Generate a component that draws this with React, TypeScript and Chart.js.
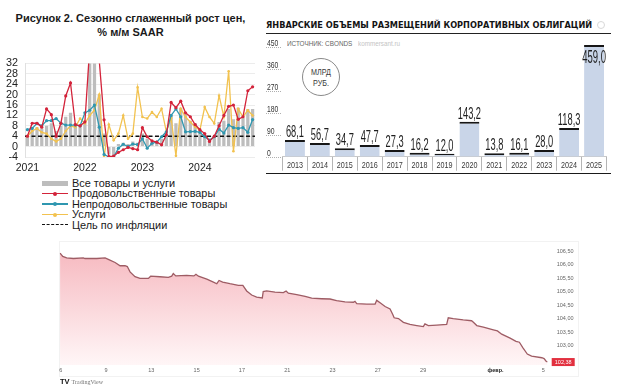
import React, { useEffect, useRef } from "react";
import { Chart, registerables } from "chart.js";
Chart.register(...registerables);

// ---------- Chart 1: seasonally adjusted price growth ----------
const cpiYears = ["2021", "2022", "2023", "2024"];
const cpiMonthNames = ["01", "02", "03", "04", "05", "06", "07", "08", "09", "10", "11", "12"];
const cpiCategories = cpiYears.flatMap((y) => cpiMonthNames.map((m) => `${y}-${m}`));
const allItems = [4.5, 6.5, 7.5, 7, 8, 9, 6, 8, 11.5, 13, 9, 8.5,
  9, 45, 45, 20, 5, -3, -3.7, 1, 1.5, 1, 2, 1.5,
  5, 3, 1.5, 2, 3, 5.5, 12, 9, 15, 12.5, 10, 9,
  6.3, 5, 2.5, 3.8, 9.5, 10, 14.5, 10.5, 15, 11, 14.5, 14.5];
const foodGoods = [4, 9, 9, 7.5, 14.5, 12.3, 4, 9, 19.5, 24.5, 8.5, 8,
  9.5, 38, 45, 33, 10.3, -3.8, -3.7, -2.2, -1.2, -0.3, -0.8, -1.2,
  7.3, 3.8, 2.2, 1.7, 0.7, 4.5, 17, 15, 17.5, 13, 11.5, 8.5,
  6.5, 5, 2, 4, 8, 12, 15.5, 16, 10.5, 11.5, 21.5, 23];
const nonFoodGoods = [6.5, 7, 9, 8, 10, 10, 10.8, 9, 8.3, 8.3, 8.3, 8,
  13, 14, 16, 7.5, -3, -4, -4, -0.6, 0.9, 0, 1, 0.8,
  3, -0.6, 1.3, 1.7, 3.8, 5.7, 12, 14.5, 11.5, 5.7, 5.8, 5.9,
  5.5, 3.8, 2.5, 3.8, 6.7, 5.2, 8.3, 7.3, 7, 7.3, 5.5, 10.4];
const services = [4, 6, 7, 5.5, 5, 3, 2, 3, 6, 8, 7.5, 10.8,
  8.9, 12, 14, 20, -4, 8.5, 2.4, 5, 12, 3, 5, 22.8,
  11.4, 10.8, 13.3, 11.4, 14.6, 5.7, 11, -3.5, 14.6, 11.4, 9.5, 7.6,
  6.3, 15.2, 11.4, 8.9, 19.6, 11.4, 29, -1.8, 14.6, 11.4, 14, 12];
const inflationTarget = 4;
const cpiLegend = [
  "Все товары и услуги",
  "Продовольственные товары",
  "Непродовольственные товары",
  "Услуги",
  "Цель по инфляции",
];

// ---------- Chart 2: January corporate bond placements ----------
const bondYears = ["2013", "2014", "2015", "2016", "2017", "2018", "2019", "2020", "2021", "2022", "2023", "2024", "2025"];
const bondVolumes = [68.1, 56.7, 34.7, 47.7, 27.3, 16.2, 12.0, 143.2, 13.8, 16.1, 28.0, 118.3, 459.0];
const bondTicks = [0, 90, 180, 270, 360, 450];

// ---------- Chart 3: price line (TradingView style) ----------
const ofzSession = [-0.03, 0.09, 0.26, 0.56, 1.0, 1.07, 1.59, 1.96, 2.10, 2.40,
  2.62, 2.84, 2.94, 3.06, 3.28, 3.50, 3.87, 3.97, 4.38, 4.75,
  4.90, 4.97, 5.08, 5.56, 5.88, 5.97, 6.08, 6.45, 6.74, 6.89,
  6.99, 7.15, 7.47, 7.84, 8.04, 8.21, 8.43, 8.65, 8.90, 8.94,
  9.09, 9.46, 9.83, 9.95, 10.05, 10.42, 10.79, 11.08, 11.52, 11.89,
  12.18, 12.55, 12.92, 12.99, 13.07, 13.51, 13.88, 13.95, 14.10, 14.32,
  14.54, 14.66, 14.72, 14.91, 15.13, 15.42, 15.72, 16.01, 16.08, 16.23,
  16.60, 17.04, 17.11, 17.33, 17.77, 18.14, 18.22, 18.37, 18.66, 19.10,
  19.28, 19.47, 19.84, 20.10, 20.25, 20.40, 20.60, 20.79, 21.24, 21.34,
  21.43, 21.49];
const ofzPrice = [106.44, 106.32, 106.26, 106.24, 106.26, 106.24, 106.24, 106.26, 106.21, 106.09,
  105.97, 105.97, 105.94, 105.74, 105.56, 105.50, 105.50, 105.58, 105.56, 105.54,
  105.58, 105.68, 105.59, 105.61, 105.59, 105.65, 105.58, 105.47, 105.36, 105.30,
  105.42, 105.36, 105.30, 105.24, 105.24, 105.03, 104.88, 104.80, 104.77, 105.01,
  105.03, 104.99, 104.97, 105.03, 104.95, 104.89, 104.83, 104.76, 104.74, 104.73,
  104.67, 104.62, 104.61, 104.64, 104.56, 104.54, 104.54, 104.68, 104.59, 104.45,
  104.36, 104.15, 104.03, 104.00, 103.86, 103.78, 103.74, 103.70, 103.80, 103.74,
  103.76, 103.78, 104.03, 104.00, 103.95, 103.92, 103.86, 103.74, 103.68, 103.58,
  103.54, 103.42, 103.27, 103.15, 103.12, 102.92, 102.68, 102.60, 102.54, 102.51,
  102.41, 102.38];
const ofzTickPos = [0, 2, 4, 6, 8, 10, 12, 14, 16, 19.2, 21.3];
const ofzTickLabels = ["6", "9", "13", "15", "17", "21", "23", "27", "29", "февр.", "5"];
const ofzPriceTicks = [103, 103.5, 104, 104.5, 105, 105.5, 106, 106.5];

const SANS = "'Liberation Sans', Arial, sans-serif";

const RED = "#d3233a";
const TEAL = "#2f97b0";
const YELLOW = "#f2c24f";

const targetPlugin = {
  id: "targetLine",
  afterDatasetDraw(chart: any, args: any) {
    if (args.index !== 0) return;
    const { ctx, chartArea } = chart;
    const y = chart.scales.y.getPixelForValue(inflationTarget);
    ctx.save();
    ctx.beginPath();
    ctx.setLineDash([4, 2.5]);
    ctx.lineWidth = 1.5;
    ctx.strokeStyle = "#111";
    ctx.moveTo(chartArea.left, y);
    ctx.lineTo(chartArea.right, y);
    ctx.stroke();
    ctx.restore();
  },
};

function narrowText(ctx: any, txt: string, x: number, y: number, size: number, sx: number, align: string, color: string) {
  ctx.save();
  ctx.fillStyle = color;
  ctx.font = `${size}px ${SANS}`;
  ctx.textAlign = align;
  ctx.textBaseline = "alphabetic";
  ctx.translate(x, y);
  ctx.scale(sx, 1);
  ctx.fillText(txt, 0, 0);
  ctx.restore();
}

const bondPlugin = {
  id: "bondDecor",
  afterDatasetsDraw(chart: any) {
    const { ctx, chartArea } = chart;
    const meta = chart.getDatasetMeta(0);
    const xs = chart.scales.x;
    meta.data.forEach((bar: any, i: number) => {
      const v = bondVolumes[i];
      const txt = v.toFixed(1).replace(".", ",");
      const inside = v > 400;
      narrowText(ctx, txt, bar.x, inside ? bar.y + 18 : bar.y - 3, inside ? 19 : 16, inside ? 0.5 : 0.58, "center", "#1e1e1e");
      narrowText(ctx, bondYears[i], xs.getPixelForValue(i), chartArea.bottom + 11.5, 9, 0.8, "center", "#3a3a3a");
    });
    const ys = chart.scales.y;
    bondTicks.forEach((t) => {
      const py = Math.round(ys.getPixelForValue(t)) + 0.5;
      ctx.save();
      ctx.strokeStyle = "#9a9a9a";
      ctx.lineWidth = 0.8;
      ctx.setLineDash([1, 1]);
      ctx.beginPath();
      ctx.moveTo(4, py);
      ctx.lineTo(19, py);
      ctx.stroke();
      ctx.restore();
      narrowText(ctx, String(t), 5, py - 2, 8.5, 0.8, "left", "#333");
    });
  },
};

const lastPricePlugin = {
  id: "lastPrice",
  afterDraw(chart: any) {
    const { ctx, chartArea } = chart;
    const v = ofzPrice[ofzPrice.length - 1];
    const py = chart.scales.y.getPixelForValue(v);
    ctx.save();
    ctx.fillStyle = "#e2303f";
    ctx.fillRect(chartArea.right + 4, py - 4, 23, 8);
    ctx.fillStyle = "#fff";
    ctx.font = `5.5px ${SANS}`;
    ctx.textAlign = "center";
    ctx.textBaseline = "middle";
    ctx.fillText(v.toFixed(2).replace(".", ","), chartArea.right + 15.5, py + 0.3);
    ctx.restore();
  },
};

function makeCpi(canvas: HTMLCanvasElement) {
  return new Chart(canvas, {
    type: "bar",
    data: {
      labels: cpiCategories,
      datasets: [
        { type: "bar", label: cpiLegend[0], data: allItems, backgroundColor: "#bdbdbd", barPercentage: 0.68, categoryPercentage: 1, order: 10 } as any,
        { type: "line", label: cpiLegend[1], data: foodGoods, borderColor: RED, backgroundColor: RED, borderWidth: 1.3, pointRadius: 1.6, pointBorderWidth: 0, order: 1 },
        { type: "line", label: cpiLegend[2], data: nonFoodGoods, borderColor: TEAL, backgroundColor: TEAL, borderWidth: 1.3, pointRadius: 1.6, pointBorderWidth: 0, order: 2 },
        { type: "line", label: cpiLegend[3], data: services, borderColor: YELLOW, backgroundColor: YELLOW, borderWidth: 1.3, pointRadius: 1.3, pointBorderWidth: 0, order: 3 },
      ],
    },
    options: {
      responsive: false,
      animation: false,
      devicePixelRatio: 1,
      layout: { padding: { top: 12, right: 7, left: 0, bottom: 0 } },
      plugins: { legend: { display: false }, tooltip: { enabled: false } },
      scales: {
        x: {
          grid: { display: false, drawTicks: false },
          border: { display: false },
          ticks: {
            autoSkip: false,
            maxRotation: 0,
            padding: 5,
            color: "#222",
            font: { family: SANS, size: 10.5 },
            callback: (_v: any, i: number) => (cpiCategories[i].endsWith("-01") ? cpiCategories[i].slice(0, 4) : ""),
          },
          afterFit: (s: any) => { s.height = 18; },
        },
        y: {
          min: -4,
          max: 32,
          ticks: { stepSize: 4, autoSkip: false, padding: 7, color: "#222", font: { family: SANS, size: 10.8 } },
          grid: { color: "#ececec", drawTicks: false },
          border: { display: true, color: "#e0e0e0" },
          afterFit: (s: any) => { s.width = 25; },
        },
      },
    } as any,
    plugins: [targetPlugin],
  });
}

function makeBonds(canvas: HTMLCanvasElement) {
  return new Chart(canvas, {
    type: "bar",
    data: {
      labels: bondYears,
      datasets: [
        {
          data: bondVolumes,
          backgroundColor: "#c9d5e8",
          borderColor: "#161616",
          borderWidth: { top: 2, left: 0, right: 0, bottom: 0 },
          borderSkipped: "start",
          barPercentage: 0.8,
          categoryPercentage: 1,
        } as any,
      ],
    },
    options: {
      responsive: false,
      animation: false,
      devicePixelRatio: 1,
      layout: { padding: { top: 6.3, right: 5.5, left: 20.5, bottom: 0 } },
      plugins: { legend: { display: false }, tooltip: { enabled: false } },
      scales: {
        x: {
          grid: { display: true, drawOnChartArea: false, drawTicks: true, tickLength: 14, color: "#b5b5b5", offset: true },
          border: { display: true, color: "#c8c8c8" },
          ticks: { display: false, autoSkip: false, maxRotation: 0 },
          afterFit: (s: any) => { s.height = 19.3; },
        },
        y: { display: false, min: 0, max: 470 },
      },
    } as any,
    plugins: [bondPlugin],
  });
}

function makeOfz(canvas: HTMLCanvasElement) {
  return new Chart(canvas, {
    type: "line",
    data: {
      datasets: [
        {
          data: ofzSession.map((d, i) => ({ x: d, y: ofzPrice[i] })),
          borderColor: "#9e5c64",
          borderWidth: 1.3,
          pointRadius: 0,
          tension: 0,
          fill: "start",
          backgroundColor: (c: any) => {
            const ca = c.chart.chartArea;
            if (!ca) return "rgba(246,185,192,0.5)";
            const g = c.chart.ctx.createLinearGradient(0, ca.top, 0, ca.bottom);
            g.addColorStop(0, "#f6b8bf");
            g.addColorStop(1, "#fff6f7");
            return g;
          },
        },
      ],
    },
    options: {
      responsive: false,
      animation: false,
      devicePixelRatio: 1,
      layout: { padding: { top: 5.7, right: 7.3, left: 19.6, bottom: 0 } },
      plugins: { legend: { display: false }, tooltip: { enabled: false } },
      scales: {
        x: {
          type: "linear",
          min: -0.05,
          max: 21.5,
          grid: { display: false, drawTicks: false },
          border: { display: false },
          afterBuildTicks: (a: any) => { a.ticks = ofzTickPos.map((v) => ({ value: v })); },
          ticks: {
            autoSkip: false,
            maxRotation: 0,
            padding: 2,
            color: (c: any) => (c.index === 9 ? "#222" : "#666"),
            font: (c: any) => ({ family: SANS, size: 5.5, weight: c.index === 9 ? "bold" : "normal" }),
            callback: (_v: any, i: number) => ofzTickLabels[i],
          },
          afterFit: (s: any) => { s.height = 16; },
        },
        y: {
          position: "right",
          min: 102.27,
          max: 106.62,
          grid: { display: false, drawTicks: false },
          border: { display: false },
          afterBuildTicks: (a: any) => { a.ticks = ofzPriceTicks.map((v) => ({ value: v })); },
          ticks: {
            padding: 9,
            autoSkip: false,
            color: "#666",
            font: { family: SANS, size: 5.5 },
            callback: (v: any) => Number(v).toFixed(2).replace(".", ","),
          },
          afterFit: (s: any) => { s.width = 30; },
        },
      },
    } as any,
    plugins: [lastPricePlugin],
  });
}

const abs = (left: number, top: number, extra: any = {}) => ({ position: "absolute" as const, left, top, ...extra });

export default function App() {
  const r1 = useRef<HTMLCanvasElement>(null);
  const r2 = useRef<HTMLCanvasElement>(null);
  const r3 = useRef<HTMLCanvasElement>(null);

  useEffect(() => {
    const charts = [makeCpi(r1.current!), makeBonds(r2.current!), makeOfz(r3.current!)];
    return () => charts.forEach((c) => c.destroy());
  }, []);

  const legendRowTop = [183, 193.5, 204, 214.5, 225];
  const legendSymbol = (i: number) => {
    if (i === 0) return <div style={abs(0, -2.5, { width: 26, height: 5, background: "#bdbdbd" })} />;
    if (i === 4) return <div style={abs(0, -0.8, { width: 26, height: 0, borderTop: "1.6px dashed #111" })} />;
    const col = [RED, TEAL, YELLOW][i - 1];
    return (
      <>
        <div style={abs(0, -0.65, { width: 26, height: 1.3, background: col })} />
        <div style={abs(11, -2, { width: 4, height: 4, borderRadius: 2, background: col })} />
      </>
    );
  };

  return (
    <div style={{ position: "fixed", left: 0, top: 0, width: 620, height: 390, background: "#fff", overflow: "hidden", fontFamily: SANS, color: "#1a1a1a" }}>
      {/* Chart 1 title */}
      <div style={abs(0, 11, { width: 261, textAlign: "center", fontWeight: "bold", fontSize: 11, lineHeight: "14px" })}>
        Рисунок 2. Сезонно сглаженный рост цен,
      </div>
      <div style={abs(0, 25, { width: 261, textAlign: "center", fontWeight: "bold", fontSize: 11, lineHeight: "14px" })}>
        % м/м SAAR
      </div>
      <canvas ref={r1} width={262} height={125} style={abs(0, 50, { width: 262, height: 125 })} />
      {cpiLegend.map((t, i) => (
        <div key={t} style={abs(42, legendRowTop[i], { height: 0 })}>
          {legendSymbol(i)}
          <div style={abs(30, -6.5, { whiteSpace: "nowrap", fontSize: 10.9, lineHeight: "13px" })}>{t}</div>
        </div>
      ))}

      {/* Chart 2 */}
      <div style={abs(266, 19.5, { whiteSpace: "nowrap", fontFamily: "'DejaVu Sans', sans-serif", fontWeight: "bold", fontSize: 8.2, lineHeight: "11px", color: "#141414" })}>
        ЯНВАРСКИЕ ОБЪЕМЫ РАЗМЕЩЕНИЙ КОРПОРАТИВНЫХ ОБЛИГАЦИЙ
      </div>
      <div style={abs(597, 21, { width: 6, height: 6, borderRadius: 4, border: "1px solid #d8d8d8" })} />
      <div style={abs(266, 32.5, { width: 345, height: 1.5, background: "#222" })} />
      <div style={abs(287, 38.5, { whiteSpace: "nowrap", fontSize: 7.5, lineHeight: "9px", color: "#666", transform: "scaleX(0.85)", transformOrigin: "left center" })}>
        ИСТОЧНИК: CBONDS
      </div>
      <div style={abs(358, 38.5, { whiteSpace: "nowrap", fontSize: 7, lineHeight: "9px", color: "#c4c4c4", transform: "scaleX(0.9)", transformOrigin: "left center" })}>
        kommersant.ru
      </div>
      <div style={abs(302, 58, { width: 36, height: 36, borderRadius: 20, border: "1px solid #8a8a8a" })} />
      <div style={abs(302, 67, { width: 38, textAlign: "center", fontSize: 9, lineHeight: "11px", color: "#3a3a3a", transform: "scaleX(0.8)", transformOrigin: "center center" })}>
        МЛРД
        <br />
        РУБ.
      </div>
      <canvas ref={r2} width={350} height={140} style={abs(262, 36, { width: 350, height: 140 })} />
      <div style={abs(266, 172.5, { width: 345, height: 1.8, background: "#1a1a1a" })} />

      {/* Chart 3 */}
      <div style={abs(59, 241, { width: 518, height: 134, border: "1px solid #f2f2f2" })} />
      <canvas ref={r3} width={545} height={145} style={abs(40, 236, { width: 545, height: 145 })} />
      <div style={abs(60, 378, { whiteSpace: "nowrap", fontSize: 6, lineHeight: "8px", color: "#777" })}>
        <span style={{ fontWeight: "bold", color: "#111", fontSize: 7.5, marginRight: 2 }}>TV</span>
        <span style={{ fontFamily: "'Liberation Serif', serif" }}>TradingView</span>
      </div>
    </div>
  );
}
